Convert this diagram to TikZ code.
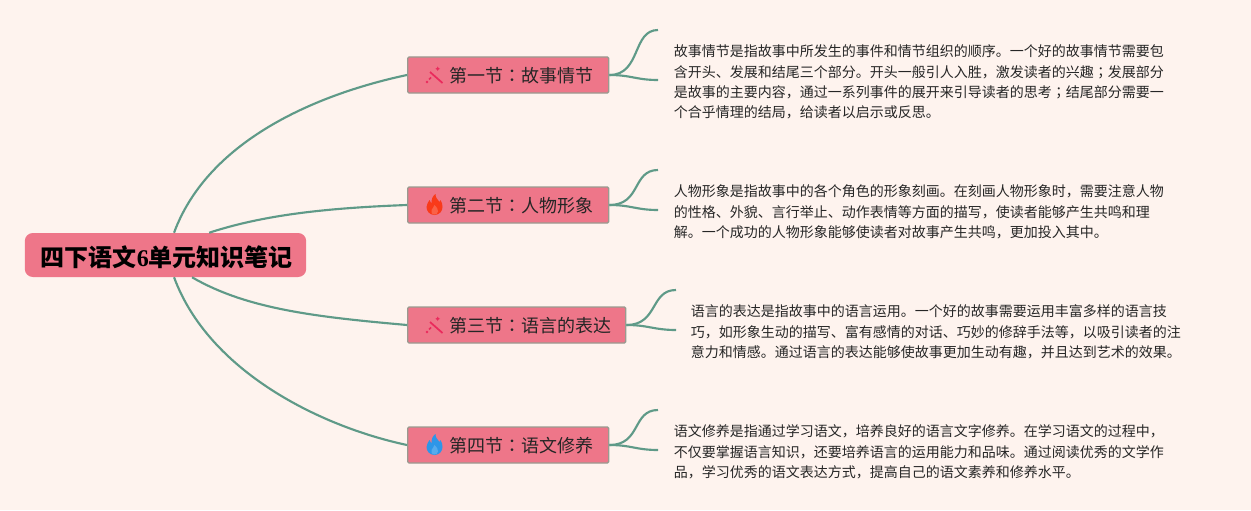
\documentclass[tikz,border=0pt]{standalone}
\usepackage{fontspec}
\setmainfont{Noto Sans CJK SC}
\newfontfamily\jpfont{Noto Sans CJK JP}
\newfontfamily\numfont{Liberation Serif}[BoldFont={Liberation Serif Bold}]
\newcommand{\cn}{{\jpfont ：}}
\newcommand{\sm}{{\jpfont ；}}
\definecolor{pagebg}{HTML}{FEF3EE}
\definecolor{boxfill}{HTML}{EE7689}
\definecolor{boxline}{HTML}{9A9A90}
\definecolor{linkcol}{HTML}{5F9A88}
\definecolor{wandcol}{HTML}{EA2A5C}
\definecolor{flamered}{HTML}{F93A1A}
\definecolor{flameblue}{HTML}{2E96E8}
\tikzset{
  rootbox/.style={fill=boxfill,rounded corners=6pt,minimum width=211pt,minimum height=33pt,inner sep=0pt,font=\fontsize{18}{20}\selectfont\bfseries},
  sectbox/.style={anchor=west,fill=boxfill,draw=boxline,line width=1pt,rounded corners=1pt,minimum height=27pt,inner xsep=0pt,inner ysep=0pt,font=\fontsize{13.5}{16}\selectfont,text=black!85},
  notetext/.style={anchor=west,align=left,inner sep=0pt,font=\fontsize{10.5}{15.25}\selectfont,text=black!85},
  link/.style={draw=linkcol,line width=1.6pt},
  flame/.pic={
    \fill[#1] (0,10) .. controls (-5,10) and (-8,6) .. (-8,2) .. controls (-8,-1) and (-6,-3) .. (-5,-5)
      .. controls (-4,-3) and (-3.5,-2) .. (-3,-2) .. controls (-3,-6) and (-2,-9) .. (1,-11)
      .. controls (1,-7) and (3,-6) .. (5,-3) .. controls (5.5,-3.5) and (6,-4) .. (6,-5)
      .. controls (7.5,-3) and (8,0) .. (8,2) .. controls (8,6) and (5,10) .. (0,10) -- cycle;
    \fill[white,opacity=0.2] (0,9.5) .. controls (-3,9.5) and (-4,7) .. (-3,5) .. controls (-2,3) and (-0.5,2) .. (0,0)
      .. controls (2,2) and (4,4) .. (3.5,6.5) .. controls (3,8.5) and (2,9.5) .. (0,9.5) -- cycle;
  },
  wand/.pic={
    \draw[wandcol,line width=1.3pt] (-4.5,-3) -- (8,8);
    \draw[wandcol,line width=1.3pt] (-5.5,4.5) -- (-3.5,2.5);
    \fill[wandcol] (-7.5,7) circle (1.4);
    \fill[wandcol] (3.2,-8.5) -- (4,-7) -- (5.5,-6.2) -- (4,-5.4) -- (3.2,-4) -- (2.4,-5.4) -- (0.9,-6.2) -- (2.4,-7) -- cycle;
  },
}
\begin{document}
\begin{tikzpicture}[x=0.75pt,y=-0.75pt]
    \fill[pagebg] (0,0) rectangle (1251,510);
    \useasboundingbox (0,0) rectangle (1251,510);
    %% root
    \node[rootbox] (root) at (165.5,255) {\raisebox{-8.5pt}[0pt][0pt]{\hspace{2pt}四下语文{\numfont 6}单元知识笔记}};
    %% sections
    \node[sectbox] (sect1) at (407,75) {\kern31.5pt\raisebox{-5.9pt}[0pt][0pt]{第一节\cn 故事情节}\kern11.25pt};
    \node[sectbox] (sect2) at (407,205) {\kern31.5pt\raisebox{-5.9pt}[0pt][0pt]{第二节\cn 人物形象}\kern11.25pt};
    \node[sectbox] (sect3) at (407,325) {\kern31.5pt\raisebox{-5.9pt}[0pt][0pt]{第三节\cn 语言的表达}\kern10.5pt};
    \node[sectbox] (sect4) at (407,445) {\kern31.5pt\raisebox{-5.9pt}[0pt][0pt]{第四节\cn 语文修养}\kern11.25pt};
    %% icons
    \pic at (434.5,75) {wand};
    \pic at (434.5,205) {flame=flamered};
    \pic at (434.5,325) {wand};
    \pic at (434.5,445) {flame=flameblue};
    %% root to sections
    \draw[link] (root.69) .. controls +(35,-95) and +(-85,18) .. (sect1.west);
    \draw[link] (root.27) .. controls +(55,-18) and +(-80,3) .. (sect2.west);
    \draw[link] (root.-40) .. controls +(55,32) and +(-90,-8) .. (sect3.west);
    \draw[link] (root.-69) .. controls +(35,95) and +(-85,-18) .. (sect4.west);
    %% free ends
    \coordinate (end1a) at (658,30);
    \coordinate (end1b) at (658,80);
    \coordinate (end2a) at (658,170);
    \coordinate (end2b) at (658,210);
    \coordinate (end3a) at (676,290);
    \coordinate (end3b) at (676,330);
    \coordinate (end4a) at (658,410);
    \coordinate (end4b) at (658,450);
    %% forks
    \draw[link] (sect1.east) .. controls +(32,0) and +(-26,0) .. (end1a);
    \draw[link] (sect1.east) .. controls +(22,0) and +(-22,0) .. (end1b);
    \draw[link] (sect2.east) .. controls +(32,0) and +(-26,0) .. (end2a);
    \draw[link] (sect2.east) .. controls +(22,0) and +(-22,0) .. (end2b);
    \draw[link] (sect3.east) .. controls +(32,0) and +(-26,0) .. (end3a);
    \draw[link] (sect3.east) .. controls +(22,0) and +(-22,0) .. (end3b);
    \draw[link] (sect4.east) .. controls +(32,0) and +(-26,0) .. (end4a);
    \draw[link] (sect4.east) .. controls +(22,0) and +(-22,0) .. (end4b);
    %% notes
    \node[notetext] (note1) at (673.5,82) {故事情节是指故事中所发生的事件和情节组织的顺序。一个好的故事情节需要包\\
      含开头、发展和结尾三个部分。开头一般引人入胜，激发读者的兴趣\sm 发展部分\\
      是故事的主要内容，通过一系列事件的展开来引导读者的思考\sm 结尾部分需要一\\
      个合乎情理的结局，给读者以启示或反思。};
    \node[notetext] (note2) at (673.5,212) {人物形象是指故事中的各个角色的形象刻画。在刻画人物形象时，需要注意人物\\
      的性格、外貌、言行举止、动作表情等方面的描写，使读者能够产生共鸣和理\\
      解。一个成功的人物形象能够使读者对故事产生共鸣，更加投入其中。};
    \node[notetext] (note3) at (690.5,332) {语言的表达是指故事中的语言运用。一个好的故事需要运用丰富多样的语言技\\
      巧，如形象生动的描写、富有感情的对话、巧妙的修辞手法等，以吸引读者的注\\
      意力和情感。通过语言的表达能够使故事更加生动有趣，并且达到艺术的效果。};
    \node[notetext] (note4) at (673.5,452) {语文修养是指通过学习语文，培养良好的语言文字修养。在学习语文的过程中，\\
      不仅要掌握语言知识，还要培养语言的运用能力和品味。通过阅读优秀的文学作\\
      品，学习优秀的语文表达方式，提高自己的语文素养和修养水平。};
\end{tikzpicture}
\end{document}
